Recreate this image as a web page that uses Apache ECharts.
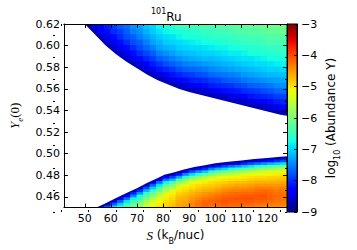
<!DOCTYPE html>
<html><head><meta charset="utf-8">
<script src="https://cdn.jsdelivr.net/npm/echarts@6/dist/echarts.min.js"></script>
<style>html,body{margin:0;padding:0;background:#fff}#c{width:357px;height:250px}</style>
</head><body><div id="c"></div>
<script>
// ---- data ----
const S_CENTERS = [43.75,46.25,48.75,51.25,53.75,56.25,58.75,61.25,63.75,66.25,68.75,71.25,73.75,76.25,78.75,81.25,83.75,86.25,88.75,91.25,93.75,96.25,98.75,101.25,103.75,106.25,108.75,111.25,113.75,116.25,118.75,121.25,123.75,126.25];

const UPPER_YE = [0.6175,0.6125,0.6075,0.6025,0.5975,0.5925,0.5875,0.5825,0.5775,0.5725,0.5675,0.5625,0.5575,0.5525,0.5475,0.5425,0.5375];
const UPPER_START = [3,3,4,5,6,6,7,9,10,11,12,14,17,19,23,26,29];
const UPPER_LOG_Y = [
 [-8.8,-8.5,-8.3,-8.1,-7.9,-7.7,-7.6,-7.4,-7.3,-7.1,-7.0,-6.8,-6.7,-6.6,-6.55,-6.5,-6.45,-6.45,-6.4,-6.4,-6.35,-6.35,-6.3,-6.25,-6.25,-6.2,-6.2,-6.15,-6.1,-6.1,-6.05],
 [-8.8,-8.7,-8.4,-8.2,-8.0,-7.9,-7.7,-7.5,-7.4,-7.2,-7.05,-6.9,-6.8,-6.75,-6.7,-6.65,-6.6,-6.55,-6.5,-6.5,-6.45,-6.45,-6.4,-6.35,-6.35,-6.3,-6.3,-6.25,-6.2,-6.2,-6.15],
 [-8.8,-8.7,-8.4,-8.2,-8.0,-7.8,-7.7,-7.5,-7.35,-7.2,-7.05,-6.95,-6.9,-6.8,-6.75,-6.7,-6.7,-6.65,-6.6,-6.55,-6.55,-6.5,-6.45,-6.45,-6.4,-6.4,-6.35,-6.3,-6.3,-6.25],
 [-8.8,-8.6,-8.35,-8.2,-8.0,-7.8,-7.7,-7.5,-7.3,-7.2,-7.05,-7.0,-6.95,-6.9,-6.85,-6.8,-6.75,-6.75,-6.7,-6.65,-6.6,-6.6,-6.55,-6.5,-6.5,-6.45,-6.4,-6.4,-6.35],
 [-8.8,-8.6,-8.4,-8.2,-8.0,-7.8,-7.65,-7.5,-7.3,-7.2,-7.15,-7.05,-7.0,-6.95,-6.95,-6.9,-6.85,-6.8,-6.8,-6.75,-6.7,-6.65,-6.65,-6.6,-6.55,-6.5,-6.5,-6.45],
 [-8.8,-8.8,-8.6,-8.4,-8.2,-8.0,-7.85,-7.7,-7.5,-7.4,-7.3,-7.2,-7.15,-7.1,-7.05,-7.0,-7.0,-6.95,-6.9,-6.85,-6.85,-6.8,-6.75,-6.7,-6.7,-6.65,-6.6,-6.55],
 [-8.8,-8.8,-8.65,-8.4,-8.2,-8.05,-7.9,-7.7,-7.6,-7.5,-7.4,-7.3,-7.25,-7.2,-7.15,-7.15,-7.1,-7.05,-7.0,-6.95,-6.9,-6.9,-6.85,-6.8,-6.75,-6.75,-6.7],
 [-8.8,-8.7,-8.5,-8.25,-8.1,-7.95,-7.8,-7.7,-7.6,-7.5,-7.45,-7.4,-7.35,-7.3,-7.25,-7.2,-7.15,-7.1,-7.05,-7.0,-6.95,-6.95,-6.9,-6.85,-6.8],
 [-8.8,-8.8,-8.55,-8.35,-8.15,-8.05,-7.95,-7.8,-7.7,-7.65,-7.6,-7.55,-7.45,-7.4,-7.35,-7.3,-7.25,-7.2,-7.15,-7.1,-7.05,-7.0,-7.0,-6.95],
 [-8.8,-8.8,-8.65,-8.5,-8.3,-8.15,-8.05,-7.95,-7.9,-7.8,-7.75,-7.65,-7.6,-7.55,-7.5,-7.45,-7.35,-7.3,-7.25,-7.2,-7.15,-7.15,-7.1],
 [-8.8,-8.8,-8.8,-8.65,-8.5,-8.3,-8.2,-8.1,-8.05,-8.0,-7.9,-7.85,-7.75,-7.7,-7.65,-7.55,-7.5,-7.45,-7.4,-7.35,-7.3,-7.25],
 [-8.8,-8.8,-8.8,-8.65,-8.55,-8.4,-8.3,-8.2,-8.1,-8.05,-8.0,-7.95,-7.85,-7.8,-7.7,-7.65,-7.6,-7.55,-7.45,-7.4],
 [-8.8,-8.8,-8.7,-8.65,-8.55,-8.45,-8.3,-8.2,-8.15,-8.1,-8.0,-7.95,-7.9,-7.8,-7.75,-7.65,-7.6],
 [-8.8,-8.8,-8.8,-8.75,-8.65,-8.6,-8.5,-8.35,-8.25,-8.15,-8.1,-8.05,-8.0,-7.9,-7.85],
 [-8.8,-8.8,-8.8,-8.7,-8.6,-8.5,-8.4,-8.3,-8.2,-8.1,-8.05],
 [-8.8,-8.8,-8.8,-8.75,-8.65,-8.55,-8.45,-8.3],
 [-8.8,-8.8,-8.8,-8.75,-8.65]
];

const LOWER_YE = [0.45125,0.45375,0.45625,0.45875,0.46125,0.46375,0.46625,0.46875,0.47125,0.47375,0.47625,0.47875,0.48125,0.48375,0.48625,0.48875,0.49125,0.49375,0.49625,0.49875];
const LOWER_START = [4,5,6,7,8,9,9,10,11,12,13,14,15,16,18,19,22,24,28,33];
const LOWER_LOG_Y = [
 [-8.8,-8.7,-7.8,-7.0,-6.6,-6.25,-6.05,-5.8,-5.4,-5.15,-5.0,-4.85,-4.75,-4.6,-4.5,-4.35,-4.3,-4.2,-4.25,-4.25,-4.2,-4.25,-4.25,-4.3,-4.3,-4.35,-4.4,-4.4,-4.4,-4.45],
 [-8.8,-8.65,-7.7,-7.05,-6.55,-6.25,-6.0,-5.55,-5.25,-5.05,-4.9,-4.8,-4.6,-4.55,-4.4,-4.25,-4.15,-4.2,-4.15,-4.1,-4.15,-4.15,-4.15,-4.2,-4.25,-4.25,-4.3,-4.35,-4.35],
 [-8.8,-8.55,-7.7,-6.9,-6.5,-6.2,-5.75,-5.4,-5.15,-4.95,-4.85,-4.65,-4.6,-4.45,-4.3,-4.2,-4.15,-4.1,-4.05,-4.1,-4.1,-4.1,-4.1,-4.15,-4.15,-4.2,-4.25,-4.3],
 [-8.8,-8.45,-7.6,-6.8,-6.45,-6.0,-5.6,-5.3,-5.05,-4.9,-4.7,-4.65,-4.5,-4.4,-4.3,-4.25,-4.2,-4.1,-4.1,-4.05,-4.05,-4.05,-4.1,-4.1,-4.15,-4.25,-4.25],
 [-8.8,-8.25,-7.5,-6.75,-6.3,-5.9,-5.45,-5.15,-5.0,-4.75,-4.7,-4.6,-4.5,-4.4,-4.35,-4.25,-4.2,-4.15,-4.15,-4.1,-4.1,-4.1,-4.05,-4.15,-4.2,-4.2],
 [-8.8,-8.1,-7.4,-6.6,-6.2,-5.8,-5.35,-5.1,-4.9,-4.8,-4.7,-4.6,-4.5,-4.45,-4.4,-4.3,-4.25,-4.2,-4.2,-4.2,-4.15,-4.15,-4.2,-4.25,-4.25],
 [-8.8,-8.75,-8.0,-7.15,-6.55,-6.1,-5.6,-5.3,-5.0,-4.9,-4.8,-4.7,-4.65,-4.6,-4.5,-4.4,-4.35,-4.35,-4.3,-4.3,-4.25,-4.2,-4.25,-4.3,-4.3],
 [-8.8,-8.7,-7.8,-7.05,-6.45,-5.95,-5.6,-5.2,-5.05,-4.95,-4.85,-4.75,-4.7,-4.65,-4.55,-4.5,-4.45,-4.45,-4.4,-4.35,-4.35,-4.35,-4.4,-4.35],
 [-8.8,-8.65,-7.7,-6.9,-6.3,-5.95,-5.45,-5.2,-5.05,-4.95,-4.9,-4.85,-4.8,-4.7,-4.65,-4.6,-4.6,-4.55,-4.5,-4.5,-4.5,-4.5,-4.5],
 [-8.8,-8.55,-7.6,-6.8,-6.45,-5.85,-5.55,-5.25,-5.15,-5.05,-4.95,-4.9,-4.85,-4.8,-4.75,-4.75,-4.7,-4.65,-4.65,-4.65,-4.65,-4.6],
 [-8.8,-8.35,-7.55,-7.15,-6.45,-6.0,-5.65,-5.45,-5.25,-5.15,-5.05,-5.0,-4.95,-4.95,-4.9,-4.85,-4.8,-4.8,-4.8,-4.75,-4.75],
 [-8.8,-8.35,-7.9,-7.25,-6.65,-6.2,-5.9,-5.7,-5.45,-5.3,-5.2,-5.15,-5.1,-5.05,-5.0,-4.95,-4.95,-4.9,-4.9,-4.85],
 [-8.8,-8.7,-8.15,-7.45,-6.95,-6.6,-6.25,-5.95,-5.75,-5.6,-5.5,-5.4,-5.25,-5.2,-5.15,-5.15,-5.1,-5.05,-5.0],
 [-8.8,-8.8,-8.4,-7.8,-7.4,-7.05,-6.65,-6.35,-6.15,-6.0,-5.85,-5.75,-5.6,-5.5,-5.4,-5.35,-5.25,-5.2],
 [-8.8,-8.7,-8.4,-8.0,-7.5,-7.15,-6.95,-6.7,-6.5,-6.3,-6.15,-6.0,-5.9,-5.8,-5.7,-5.6],
 [-8.8,-8.8,-8.75,-8.5,-8.15,-7.85,-7.6,-7.35,-7.1,-6.9,-6.7,-6.55,-6.4,-6.25,-6.1],
 [-8.8,-8.8,-8.7,-8.55,-8.35,-8.05,-7.8,-7.6,-7.4,-7.2,-7.05,-6.9],
 [-8.8,-8.8,-8.8,-8.8,-8.7,-8.55,-8.4,-8.2,-8.0,-7.8],
 [-8.8,-8.8,-8.8,-8.8,-8.75,-8.7],
 [-8.8]
];

// edges of the no-data (white) region
const UPPER_EDGE_S  = [50,54,58,62,66,70,74,78,82,86,90,95,100,105,110,115,120,125,127.5];
const UPPER_EDGE_YE = [0.62,0.610,0.600,0.592,0.585,0.579,0.573,0.568,0.564,0.560,0.557,0.554,0.551,0.548,0.545,0.542,0.539,0.536,0.535];
const LOWER_EDGE_S  = [54.5,58,62,66,70,74,78,80.5,84,88,92,96,100,105,110,115,120,125,127.5];
const LOWER_EDGE_YE = [0.45,0.454,0.459,0.4635,0.468,0.473,0.4775,0.4805,0.4825,0.4853,0.4875,0.4893,0.491,0.4925,0.4937,0.495,0.496,0.497,0.4975];

const X_TICKS = [50,60,70,80,90,100,110,120];
const X_MINOR = [45,55,65,75,85,95,105,115,125];
const Y_TICKS = [0.46,0.48,0.50,0.52,0.54,0.56,0.58,0.60,0.62];
const Y_MINOR = [0.45,0.47,0.49,0.51,0.53,0.55,0.57,0.59,0.61];
const X_MIN = 42, X_MAX = 127.5, Y_MIN = 0.45, Y_MAX = 0.62;
const C_MIN = -9, C_MAX = -3;

// ---- jet colormap ----
function interp(t, xs, ys){ for (let i=1;i<xs.length;i++){ if (t<=xs[i]){ const f=(t-xs[i-1])/(xs[i]-xs[i-1]); return ys[i-1]+f*(ys[i]-ys[i-1]); } } return ys[ys.length-1]; }
function jet(t){
  const r=interp(t,[0,0.35,0.66,0.89,1],[0,0,1,1,0.5]);
  const g=interp(t,[0,0.125,0.375,0.64,0.91,1],[0,0,1,1,0,0]);
  const b=interp(t,[0,0.11,0.34,0.65,1],[0.5,1,1,0,0]);
  return 'rgb('+Math.round(r*255)+','+Math.round(g*255)+','+Math.round(b*255)+')';
}
const JET = []; for (let i=0;i<=40;i++) JET.push(jet(i/40));

function buildCells(yes, starts, rows){
  const out=[];
  rows.forEach((row,i)=>row.forEach((v,k)=>out.push([S_CENTERS[starts[i]+k], yes[i], v])));
  return out;
}
const hS = (S_CENTERS[1]-S_CENTERS[0])/2;
const hU = Math.abs(UPPER_YE[0]-UPPER_YE[1])/2;
const hL = Math.abs(LOWER_YE[1]-LOWER_YE[0])/2;

function cellRenderer(hy){
  return function(params, api){
    const s=api.value(0), y=api.value(1);
    const p0=api.coord([s-hS, y+hy]), p1=api.coord([s+hS, y-hy]);
    return {type:'rect', shape:{x:p0[0]-0.5, y:p0[1]-0.5, width:p1[0]-p0[0]+1, height:p1[1]-p0[1]+1},
            style:{fill: api.visual('color')}};
  };
}

const FONT = 'DejaVu Sans';
const GRID = {left:53, top:24, width:234, height:188};
const axBase = {type:'value', z:10, splitLine:{show:false}};
const lineS = {color:'#000', width:1};

const option = {
  animation:false,
  backgroundColor:'#fff',
  title:{
    text:'{sup|101}{el|Ru}', left:151, top:7, padding:0,
    textStyle:{fontWeight:'normal', rich:{
      sup:{fontFamily:FONT, fontWeight:'normal', fontSize:8, color:'#000', verticalAlign:'top', lineHeight:8},
      el:{fontFamily:FONT, fontWeight:'normal', fontSize:12, color:'#000', lineHeight:16, verticalAlign:'bottom'}
    }}
  },
  grid:[
    Object.assign({}, GRID),
    Object.assign({}, GRID),
    {left:287, top:24, width:10, height:188}
  ],
  visualMap:{type:'continuous', show:false, min:C_MIN, max:C_MAX, dimension:2, seriesIndex:[0,1], inRange:{color:JET}},
  xAxis:[
    Object.assign({}, axBase, {gridIndex:0, position:'bottom', min:X_MIN, max:X_MAX,
      axisLine:{show:true, onZero:false, lineStyle:lineS},
      axisTick:{show:true, inside:true, length:4, customValues:X_TICKS, lineStyle:lineS},
      axisLabel:{customValues:X_TICKS, fontFamily:FONT, fontSize:11, color:'#000', margin:5},
      name:'{s|S}{n| (k}{b|B}{n|/nuc)}', nameLocation:'middle', nameGap:18,
      nameTextStyle:{rich:{
        s:{fontFamily:'Liberation Serif', fontStyle:'italic', fontSize:13, color:'#000', lineHeight:14},
        n:{fontFamily:FONT, fontSize:12, color:'#000', lineHeight:14},
        b:{fontFamily:FONT, fontSize:8, color:'#000', lineHeight:8, verticalAlign:'bottom', padding:[0,0,-3,0]}
      }}}),
    Object.assign({}, axBase, {gridIndex:0, position:'top', min:X_MIN, max:X_MAX,
      axisLine:{show:true, onZero:false, lineStyle:lineS},
      axisTick:{show:true, inside:true, length:4, customValues:X_TICKS, lineStyle:lineS},
      axisLabel:{show:false}}),
    Object.assign({}, axBase, {gridIndex:1, position:'bottom', min:X_MIN, max:X_MAX,
      axisLine:{show:false}, axisTick:{show:true, inside:true, length:2, customValues:X_MINOR, lineStyle:lineS},
      axisLabel:{show:false}}),
    Object.assign({}, axBase, {gridIndex:1, position:'top', min:X_MIN, max:X_MAX,
      axisLine:{show:false}, axisTick:{show:true, inside:true, length:2, customValues:X_MINOR, lineStyle:lineS},
      axisLabel:{show:false}}),
    Object.assign({}, axBase, {gridIndex:2, min:0, max:1, show:false})
  ],
  yAxis:[
    Object.assign({}, axBase, {gridIndex:0, position:'left', min:Y_MIN, max:Y_MAX,
      axisLine:{show:true, onZero:false, lineStyle:lineS},
      axisTick:{show:true, inside:true, length:4, customValues:Y_TICKS, lineStyle:lineS},
      axisLabel:{customValues:Y_TICKS, fontFamily:FONT, fontSize:11, color:'#000', margin:4, formatter:v=>v.toFixed(2)},
      name:'{y|Y}{e|e}{p|(0)}', nameLocation:'middle', nameGap:35, nameRotate:90,
      nameTextStyle:{rich:{
        y:{fontFamily:'Liberation Serif', fontStyle:'italic', fontSize:13, color:'#000', lineHeight:14},
        e:{fontFamily:'Liberation Serif', fontStyle:'italic', fontSize:9, color:'#000', lineHeight:9, verticalAlign:'bottom', padding:[0,0,-3,0]},
        p:{fontFamily:'Liberation Serif', fontSize:13, color:'#000', lineHeight:14}
      }}}),
    Object.assign({}, axBase, {gridIndex:0, position:'right', min:Y_MIN, max:Y_MAX,
      axisLine:{show:true, onZero:false, lineStyle:lineS},
      axisTick:{show:true, inside:true, length:4, customValues:Y_TICKS, lineStyle:lineS},
      axisLabel:{show:false}}),
    Object.assign({}, axBase, {gridIndex:1, position:'left', min:Y_MIN, max:Y_MAX,
      axisLine:{show:false}, axisTick:{show:true, inside:true, length:2, customValues:Y_MINOR, lineStyle:lineS},
      axisLabel:{show:false}}),
    Object.assign({}, axBase, {gridIndex:1, position:'right', min:Y_MIN, max:Y_MAX,
      axisLine:{show:false}, axisTick:{show:true, inside:true, length:2, customValues:Y_MINOR, lineStyle:lineS},
      axisLabel:{show:false}}),
    Object.assign({}, axBase, {gridIndex:2, position:'right', min:C_MIN, max:C_MAX, interval:1,
      axisLine:{show:true, onZero:false, lineStyle:lineS},
      axisTick:{show:true, inside:true, length:3, lineStyle:lineS},
      axisLabel:{fontFamily:FONT, fontSize:11, color:'#000', margin:4, formatter:v=>(v<0?'\u2212':'')+Math.abs(v)},
      name:'{n|log}{b|10}{n| (Abundance Y)}', nameLocation:'middle', nameGap:27, nameRotate:90,
      nameTextStyle:{rich:{
        n:{fontFamily:FONT, fontSize:12, color:'#000', lineHeight:14},
        b:{fontFamily:FONT, fontSize:8, color:'#000', lineHeight:8, verticalAlign:'bottom', padding:[0,0,-3,0]}
      }}})
  ],
  series:[
    {type:'custom', xAxisIndex:0, yAxisIndex:0, z:2, clip:true, silent:true,
     renderItem:cellRenderer(hU), data:buildCells(UPPER_YE, UPPER_START, UPPER_LOG_Y)},
    {type:'custom', xAxisIndex:0, yAxisIndex:0, z:2, clip:true, silent:true,
     renderItem:cellRenderer(hL), data:buildCells(LOWER_YE, LOWER_START, LOWER_LOG_Y)},
    {type:'custom', xAxisIndex:0, yAxisIndex:0, z:3, clip:true, silent:true,
     data:[[X_MIN, Y_MIN]],
     renderItem:function(params, api){
       const pts=[api.coord([X_MIN, Y_MAX])];
       for (let i=0;i<UPPER_EDGE_S.length;i++) pts.push(api.coord([UPPER_EDGE_S[i], UPPER_EDGE_YE[i]]));
       for (let i=LOWER_EDGE_S.length-1;i>=0;i--) pts.push(api.coord([LOWER_EDGE_S[i], LOWER_EDGE_YE[i]]));
       pts.push(api.coord([X_MIN, Y_MIN]));
       return {type:'polygon', shape:{points:pts}, style:{fill:'#fff'}};
     }},
    {type:'custom', xAxisIndex:4, yAxisIndex:4, z:2, silent:true,
     data:[[0, C_MIN]],
     renderItem:function(params, api){
       const p0=api.coord([0, C_MAX]), p1=api.coord([1, C_MIN]);
       const stops = JET.map((c,i)=>({offset:i/(JET.length-1), color:c}));
       return {type:'rect', shape:{x:p0[0], y:p0[1], width:p1[0]-p0[0], height:p1[1]-p0[1]},
               style:{fill:{type:'linear', x:0, y:1, x2:0, y2:0, colorStops:stops}, stroke:'#000', lineWidth:1}};
     }}
  ]
};
const chart = echarts.init(document.getElementById('c'), null, {renderer:'svg', width:357, height:250});
chart.setOption(option);
</script>
</body></html>
